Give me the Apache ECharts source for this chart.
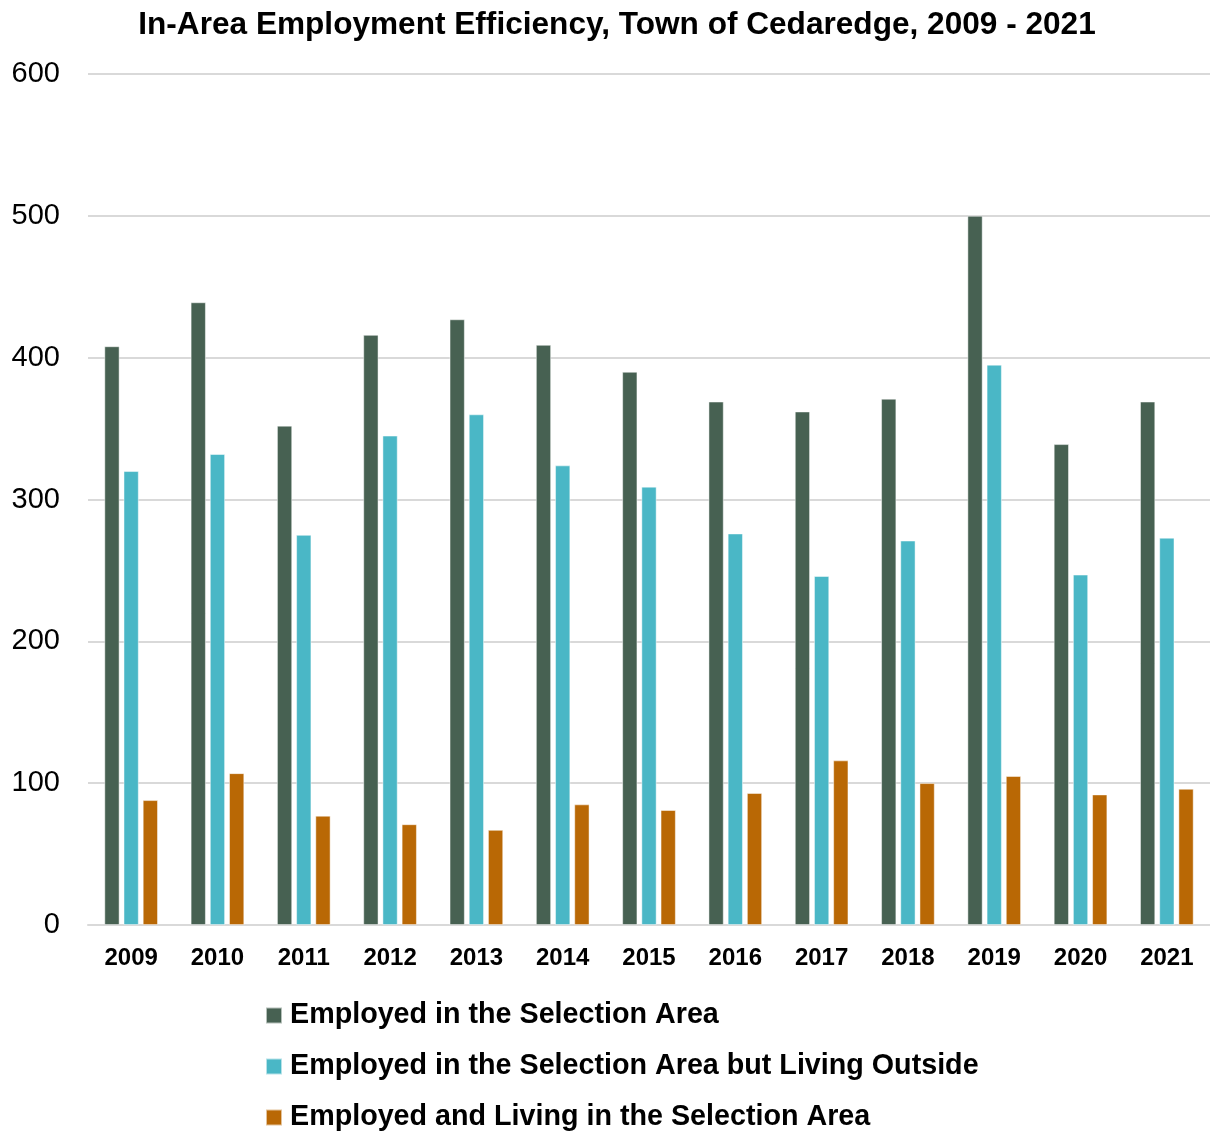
<!DOCTYPE html>
<html>
<head>
<meta charset="utf-8">
<script src="https://cdn.jsdelivr.net/npm/echarts@6/dist/echarts.min.js"></script>
<style>
  html, body { margin: 0; padding: 0; background: #fff; }
  #chart { width: 1210px; height: 1132px; }
</style>
</head>
<body>
<div id="chart"></div>
<script>
// Years on the category axis
const years = ['2009', '2010', '2011', '2012', '2013', '2014', '2015', '2016', '2017', '2018', '2019', '2020', '2021'];

// Workers employed in the town (total)
const employedInArea = [408, 439, 352, 416, 427, 409, 390, 369, 362, 371, 500, 339, 369];
// Workers employed in the town who live elsewhere
const employedLivingOutside = [320, 332, 275, 345, 360, 324, 309, 276, 246, 271, 395, 247, 273];
// Workers both employed and living in the town
const employedAndLiving = [88, 107, 77, 71, 67, 85, 81, 93, 116, 100, 105, 92, 96];

// Value axis ticks
const yTicks = [0, 100, 200, 300, 400, 500, 600];

const FONT = 'Liberation Sans, Arial, sans-serif';

const chart = echarts.init(document.getElementById('chart'), null, { renderer: 'canvas' });

const barStyle = (color) => ({
  color: color,
  borderColor: 'rgba(255,255,255,0.6)',
  borderWidth: 0.8
});

chart.setOption({
  backgroundColor: '#ffffff',
  animation: false,
  title: {
    text: 'In-Area Employment Efficiency, Town of Cedaredge, 2009 - 2021',
    left: 612,
    textAlign: 'center',
    top: 4,
    textStyle: { fontFamily: FONT, fontSize: 31.6, fontWeight: 'bold', color: '#000' }
  },
  grid: { left: 88, right: 0, top: 74, bottom: 1132 - 925, containLabel: false },
  legend: {
    orient: 'vertical',
    left: 265,
    top: 1001,
    height: 160,
    padding: 0,
    itemWidth: 16,
    itemHeight: 16,
    itemGap: 22,
    icon: 'rect',
    textStyle: { fontFamily: FONT, fontSize: 28.7, fontWeight: 'bold', color: '#000', lineHeight: 29, padding: [0, 0, 0, 3] },
    data: ['Employed in the Selection Area', 'Employed in the Selection Area but Living Outside', 'Employed and Living in the Selection Area']
  },
  xAxis: {
    type: 'category',
    data: years,
    axisLine: { show: true, lineStyle: { color: '#d9d9d9', width: 2 } },
    axisTick: { show: false },
    axisLabel: { fontFamily: FONT, fontSize: 24, fontWeight: 'bold', color: '#000', margin: 21 }
  },
  yAxis: {
    type: 'value',
    min: yTicks[0],
    max: yTicks[yTicks.length - 1],
    interval: yTicks[1] - yTicks[0],
    axisLine: { show: false },
    axisTick: { show: false },
    axisLabel: { fontFamily: FONT, fontSize: 29, color: '#000', margin: 28 },
    splitLine: { lineStyle: { color: '#d9d9d9', width: 2 } }
  },
  series: [
    {
      name: 'Employed in the Selection Area',
      type: 'bar',
      data: employedInArea,
      itemStyle: barStyle('#476152'),
      barGap: '27%',
      barCategoryGap: '38%'
    },
    {
      name: 'Employed in the Selection Area but Living Outside',
      type: 'bar',
      data: employedLivingOutside,
      itemStyle: barStyle('#4ab7c6')
    },
    {
      name: 'Employed and Living in the Selection Area',
      type: 'bar',
      data: employedAndLiving,
      itemStyle: barStyle('#b96805')
    }
  ]
});
</script>
</body>
</html>
